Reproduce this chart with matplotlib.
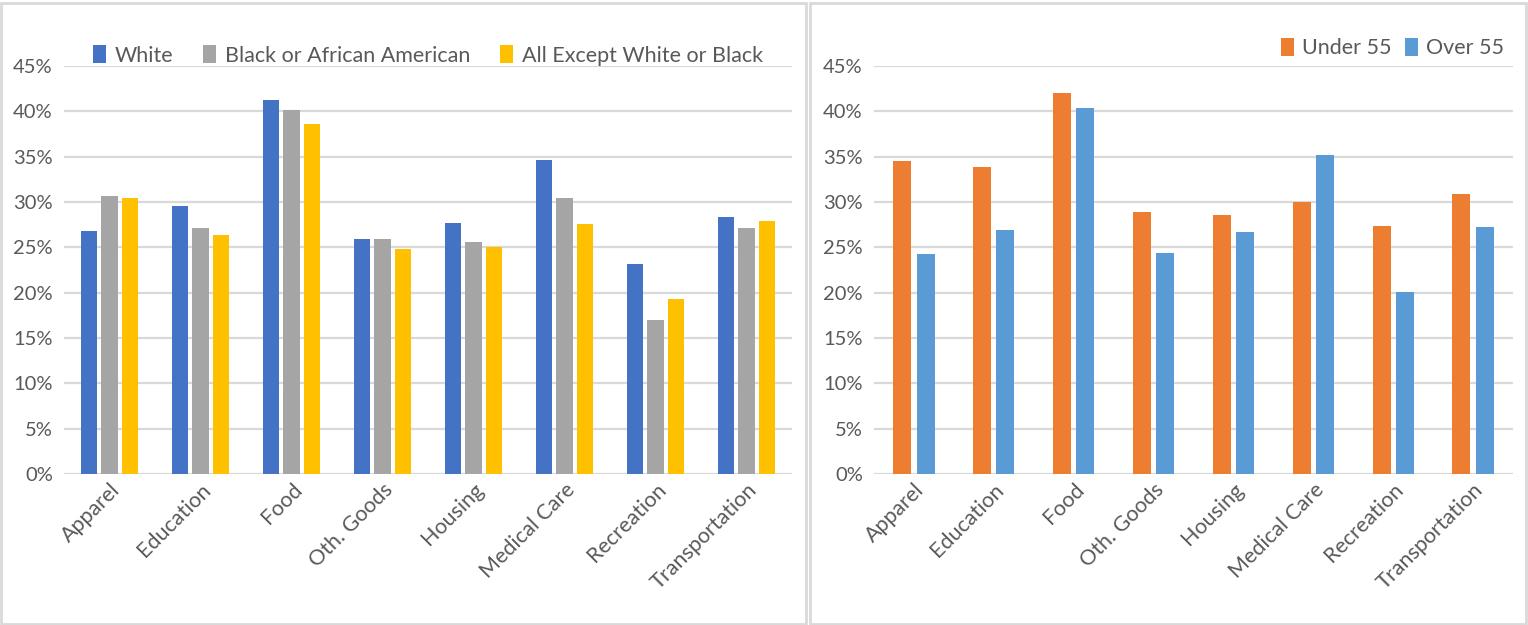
import matplotlib
matplotlib.use("Agg")
import matplotlib.pyplot as plt
import numpy as np
from matplotlib.patches import Rectangle
from matplotlib.ticker import PercentFormatter

# data
categories = ["Apparel", "Education", "Food", "Oth. Goods", "Housing",
              "Medical Care", "Recreation", "Transportation"]
white = [26.8, 29.6, 41.2, 25.9, 27.7, 34.6, 23.2, 28.4]
black = [30.7, 27.1, 40.2, 25.9, 25.6, 30.4, 17.0, 27.1]
other = [30.4, 26.4, 38.6, 24.8, 25.0, 27.6, 19.3, 27.9]
under55 = [34.5, 33.9, 42.0, 28.9, 28.6, 30.0, 27.3, 30.9]
over55 = [24.3, 26.9, 40.4, 24.4, 26.7, 35.2, 20.1, 27.2]
yticks = [0, 5, 10, 15, 20, 25, 30, 35, 40, 45]

plt.rcParams['font.family'] = ['Lato', 'DejaVu Sans']
TXT = '#595959'
GRID = '#d9d9d9'

W, H = 1528, 625
fig = plt.figure(figsize=(W / 100, H / 100), dpi=100)

# panel frames
fig.patches.append(Rectangle((1 / W, 1 / H), 805 / W, 621 / H, transform=fig.transFigure,
                             fill=False, edgecolor=GRID, linewidth=2))
fig.patches.append(Rectangle((810 / W, 1 / H), 716 / W, 621 / H, transform=fig.transFigure,
                             fill=False, edgecolor=GRID, linewidth=2))


def make_axes(x0, x1, y0=66, y1=474):
    return fig.add_axes([x0 / W, 1 - y1 / H, (x1 - x0) / W, (y1 - y0) / H])


def style(ax):
    ax.set_ylim(0, 45)
    ax.set_xlim(-0.5, len(categories) - 0.5)
    ax.set_yticks(yticks)
    ax.yaxis.set_major_formatter(PercentFormatter(decimals=0))
    ax.grid(axis='y', color=GRID, linewidth=1.6)
    ax.set_axisbelow(True)
    for s in ax.spines.values():
        s.set_visible(False)
    ax.tick_params(axis='both', length=0, labelcolor=TXT)
    ax.tick_params(axis='y', pad=8, labelsize=14.5)
    ax.set_xticks(np.arange(len(categories)))
    ax.set_xticklabels(categories, rotation=45, ha='right', rotation_mode='anchor')
    ax.tick_params(axis='x', pad=4, labelsize=15.5)


x = np.arange(len(categories))

# left: by race
ax1 = make_axes(64, 792)
bw = 0.176
step = 0.22
ax1.bar(x - step, white, bw, color='#4472c4', label='White')
ax1.bar(x, black, bw, color='#a5a5a5', label='Black or African American')
ax1.bar(x + step, other, bw, color='#ffc000', label='All Except White or Black')
style(ax1)
ax1.legend(loc='lower center', bbox_to_anchor=(0.5, 0.98), ncol=3, frameon=False,
           fontsize=15.5, labelcolor=TXT, handlelength=0.6, handleheight=0.9,
           handletextpad=0.4, columnspacing=1.4, borderaxespad=0)

# right: by age
ax2 = make_axes(874, 1513)
bw2 = 0.225
step2 = 0.145
ax2.bar(x - step2, under55, bw2, color='#ed7d31', label='Under 55')
ax2.bar(x + step2, over55, bw2, color='#5b9bd5', label='Over 55')
style(ax2)
ax2.legend(loc='lower right', bbox_to_anchor=(1.0, 0.998), ncol=2, frameon=False,
           fontsize=15.5, labelcolor=TXT, handlelength=0.6, handleheight=0.9,
           handletextpad=0.4, columnspacing=0.6, borderaxespad=0)

fig.savefig('out.png', dpi=100)
